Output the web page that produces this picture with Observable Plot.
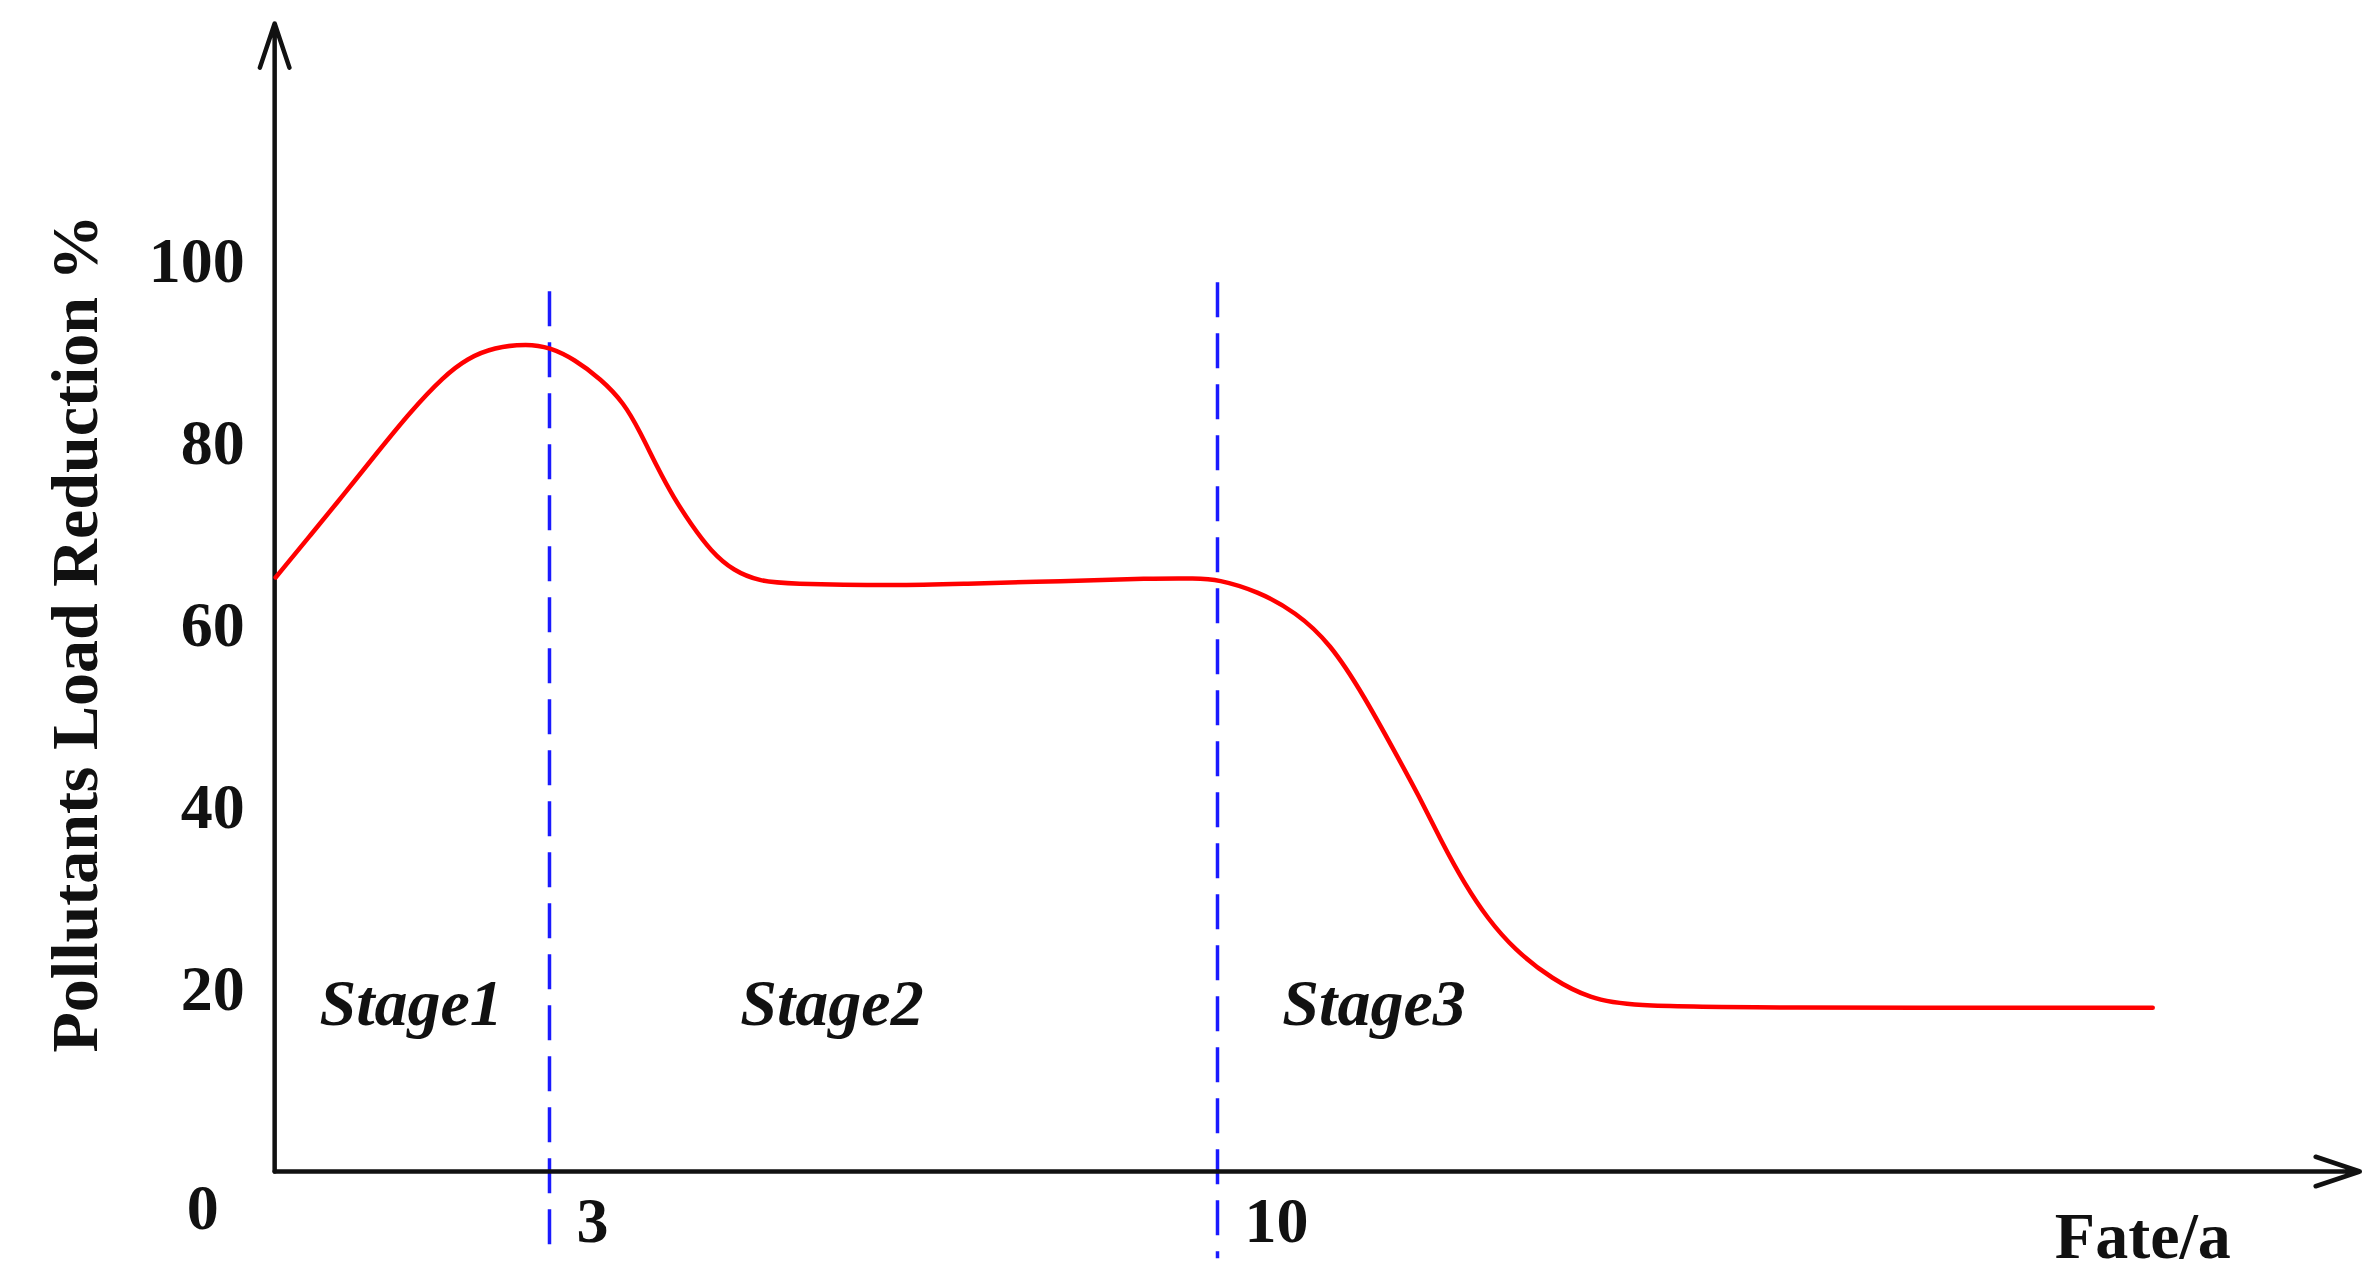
<!DOCTYPE html>
<html>
<head>
<meta charset="utf-8">
<script src="https://cdn.jsdelivr.net/npm/d3@7"></script>
<script src="https://cdn.jsdelivr.net/npm/@observablehq/plot@0.6"></script>
<style>
  html, body { margin: 0; padding: 0; background: #ffffff; }
  #chart svg { display: block; }
</style>
</head>
<body>
<div id="chart"></div>
<script>
// ---- data ----
const fate = [0.13, 0.50, 0.85, 1.20, 1.54, 1.89, 2.14, 2.42, 2.77, 3.00, 3.26, 3.54, 3.78, 3.95, 4.13, 4.30, 4.48, 4.69, 4.93, 5.21, 5.46, 6.68, 7.31, 8.38, 9.30, 9.78, 10.00, 10.42, 10.82, 11.18, 11.54, 11.87, 12.11, 12.35, 12.59, 12.83, 13.11, 13.51, 13.91, 14.31, 15.59, 19.80];
const reduction = [65.3, 70.0, 74.5, 79.1, 83.5, 87.4, 89.4, 90.6, 91.0, 90.6, 89.3, 87.1, 84.5, 81.3, 77.4, 74.1, 71.2, 68.2, 66.0, 64.9, 64.6, 64.4, 64.6, 64.9, 65.2, 65.2, 65.1, 63.8, 61.5, 58.1, 52.2, 45.9, 41.3, 36.2, 31.6, 27.8, 24.4, 21.1, 19.0, 18.2, 18.0, 18.0];
const stageBounds = [3, 10];
const stageBoundLabels = ["3", "10"];
const stageBoundTop = [96.7, 97.7];
const stageNames = ["Stage1", "Stage2", "Stage3"];
const stageLabelX = [1.55, 5.96, 11.64];
const stageLabelY = 18.4;
const yTicks = [20, 40, 60, 80, 100];
const xDomain = [0, 21.97];
const yDomain = [0, 126.2];
const axisOriginX = 0.12;   // the drawn y axis sits just right of fate = 0
const dashedBottom = -9.6;
const yTitle = "Pollutants Load Reduction %";
const xTitle = "Fate/a";

const curveData = fate.map((x, i) => ({x, y: reduction[i]}));
const FONT = "'Liberation Serif', 'Times New Roman', serif";

const chart = Plot.plot({
  width: 2379,
  height: 1279,
  marginLeft: 262.7,
  marginRight: 19.7,
  marginTop: 23,
  marginBottom: 108,
  x: {domain: xDomain, axis: null},
  y: {domain: yDomain, axis: null},
  style: {fontFamily: FONT, background: "#ffffff", color: "#111"},
  marks: [
    // stage boundaries (dash pattern starts at the top)
    Plot.ruleX(stageBounds, {x: d => d, y1: (d, i) => stageBoundTop[i], y2: dashedBottom, stroke: "#1a1aff", strokeWidth: 3.5, strokeDasharray: "35,16"}),
    // axes with arrowheads
    Plot.arrow([0], {x1: axisOriginX, y1: 0, x2: axisOriginX, y2: yDomain[1], stroke: "#111", strokeWidth: 4.5, headAngle: 37, headLength: 15.5}),
    Plot.arrow([0], {x1: axisOriginX, y1: 0, x2: xDomain[1], y2: 0, stroke: "#111", strokeWidth: 4.5, headAngle: 37, headLength: 15.5}),
    // curve
    Plot.line(curveData, {x: "x", y: "y", stroke: "#ff0000", strokeWidth: 4.5, curve: "basis"}),
    // y tick labels
    Plot.text(yTicks, {x: axisOriginX, y: d => d, text: d => String(d), textAnchor: "end", dx: -30, fontSize: 64, fontWeight: "bold", fill: "#111"}),
    Plot.text([0], {x: axisOriginX, y: 0, text: d => String(d), textAnchor: "end", dx: -56, dy: 37, fontSize: 64, fontWeight: "bold", fill: "#111"}),
    // x labels at boundaries
    Plot.text(stageBounds, {x: d => d, y: 0, text: (d, i) => stageBoundLabels[i], textAnchor: "start", dx: 27, dy: 50, fontSize: 64, fontWeight: "bold", fill: "#111"}),
    // stage names
    Plot.text(stageNames, {x: (d, i) => stageLabelX[i], y: stageLabelY, text: d => d, textAnchor: "middle", fontSize: 66, fontWeight: "bold", fontStyle: "italic", fill: "#111"}),
    // axis titles
    Plot.text([xTitle], {frameAnchor: "bottom-right", text: d => d, textAnchor: "middle", lineAnchor: "middle", dx: -217, dy: 65, fontSize: 66, fontWeight: "bold", fill: "#111"}),
    Plot.text([yTitle], {frameAnchor: "left", text: d => d, textAnchor: "middle", lineAnchor: "middle", rotate: -90, dx: -187, dy: 36, fontSize: 66, fontWeight: "bold", fill: "#111"})
  ]
});
document.getElementById("chart").appendChild(chart);
</script>
</body>
</html>
